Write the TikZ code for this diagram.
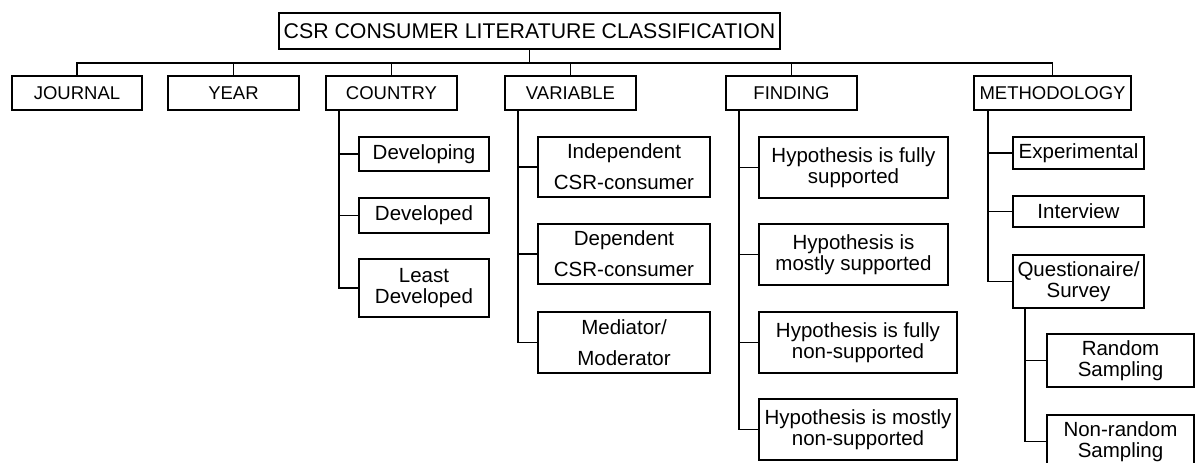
\documentclass[tikz,border=0pt]{standalone}
\usepackage{fontspec}
\setmainfont{Liberation Sans}
\begin{document}
\begin{tikzpicture}[x=1pt,y=-1pt,
  box/.style={draw=black, line width=1.8pt, inner sep=0pt, align=center, text=black},
  lnk/.style={draw=black, line width=1.8pt},
  t1/.style={font=\fontsize{21.3}{24}\selectfont},
  t2/.style={font=\fontsize{18.5}{21}\selectfont},
  t3/.style={font=\fontsize{20.5}{21.5}\selectfont},
  t3w/.style={font=\fontsize{20.5}{31}\selectfont}]
\useasboundingbox (0,0) rectangle (1195,463);
\clip (0,0) rectangle (1195,463);
\fill[white] (0,0) rectangle (1195,463);
% title
\node[box,t1,minimum width=501pt,minimum height=36pt] (title) at (529.5,31) {CSR CONSUMER LITERATURE CLASSIFICATION};
% level 1
\node[box,t2,minimum width=130pt,minimum height=34pt] (journal) at (77,93) {JOURNAL};
\node[box,t2,minimum width=131pt,minimum height=34pt] (year) at (233.5,93) {YEAR};
\node[box,t2,minimum width=131pt,minimum height=34pt] (country) at (391.5,93) {COUNTRY};
\node[box,t2,minimum width=131pt,minimum height=34pt] (variable) at (570.5,93) {VARIABLE};
\node[box,t2,minimum width=131pt,minimum height=34pt] (finding) at (791.5,93) {FINDING};
\node[box,t2,minimum width=157pt,minimum height=34pt] (method) at (1052.5,93) {METHODOLOGY};
% country children
\node[box,t3,minimum width=130pt,minimum height=34pt] (c1) at (424,154) {Developing};
\node[box,t3,minimum width=130pt,minimum height=35pt] (c2) at (424,215.5) {Developed};
\node[box,t3,minimum width=130pt,minimum height=58pt] (c3) at (424,288) {Least\\Developed};
% variable children
\node[box,t3w,minimum width=172pt,minimum height=60pt] (v1) at (624,167) {Independent\\CSR-consumer};
\node[box,t3w,minimum width=172pt,minimum height=60pt] (v2) at (624,254) {Dependent\\CSR-consumer};
\node[box,t3w,minimum width=172pt,minimum height=61pt] (v3) at (624,342.5) {Mediator/\\Moderator};
% finding children
\node[box,t3,minimum width=189pt,minimum height=61pt] (f1) at (853.5,167.5) {Hypothesis is fully\\supported};
\node[box,t3,minimum width=189pt,minimum height=61pt] (f2) at (853.5,254.5) {Hypothesis is\\mostly supported};
\node[box,t3,minimum width=198pt,minimum height=61pt] (f3) at (858,342.5) {Hypothesis is fully\\non-supported};
\node[box,t3,minimum width=198pt,minimum height=61pt] (f4) at (858,429.5) {Hypothesis is mostly\\non-supported};
% methodology children
\node[box,t3,minimum width=131pt,minimum height=32pt] (m1) at (1078.5,153) {Experimental};
\node[box,t3,minimum width=131pt,minimum height=31pt] (m2) at (1078.5,211.5) {Interview};
\node[box,t3,minimum width=131pt,minimum height=53pt] (m3) at (1078.5,281.5) {Questionaire/\\Survey};
\node[box,t3,minimum width=147pt,minimum height=53pt] (s1) at (1120.5,360.5) {Random\\Sampling};
\node[box,t3,minimum width=147pt,minimum height=53pt] (s2) at (1120.5,441.5) {Non-random\\Sampling};
% bus
\coordinate (busy) at (0,63);
\draw[lnk] (title.south) -- (title.south |- busy);
\draw[lnk] (journal.north) -- (journal.north |- busy) -- (method.north |- busy) -- (method.north);
\foreach \n in {year,country,variable,finding}
  \draw[lnk] (\n.north) -- (\n.north |- busy);
% trunks
\draw[lnk] ([xshift=14pt]country.south west) |- (c3.west);
\draw[lnk] ([xshift=14pt]country.south west |- c1.west) -- (c1.west);
\draw[lnk] ([xshift=14pt]country.south west |- c2.west) -- (c2.west);
\draw[lnk] ([xshift=14pt]variable.south west) |- (v3.west);
\draw[lnk] ([xshift=14pt]variable.south west |- v1.west) -- (v1.west);
\draw[lnk] ([xshift=14pt]variable.south west |- v2.west) -- (v2.west);
\draw[lnk] ([xshift=14pt]finding.south west) |- (f4.west);
\draw[lnk] ([xshift=14pt]finding.south west |- f1.west) -- (f1.west);
\draw[lnk] ([xshift=14pt]finding.south west |- f2.west) -- (f2.west);
\draw[lnk] ([xshift=14pt]finding.south west |- f3.west) -- (f3.west);
\draw[lnk] ([xshift=15pt]method.south west) |- (m3.west);
\draw[lnk] ([xshift=15pt]method.south west |- m1.west) -- (m1.west);
\draw[lnk] ([xshift=15pt]method.south west |- m2.west) -- (m2.west);
\draw[lnk] ([xshift=13pt]m3.south west) |- (s2.west);
\draw[lnk] ([xshift=13pt]m3.south west |- s1.west) -- (s1.west);
\end{tikzpicture}
\end{document}
